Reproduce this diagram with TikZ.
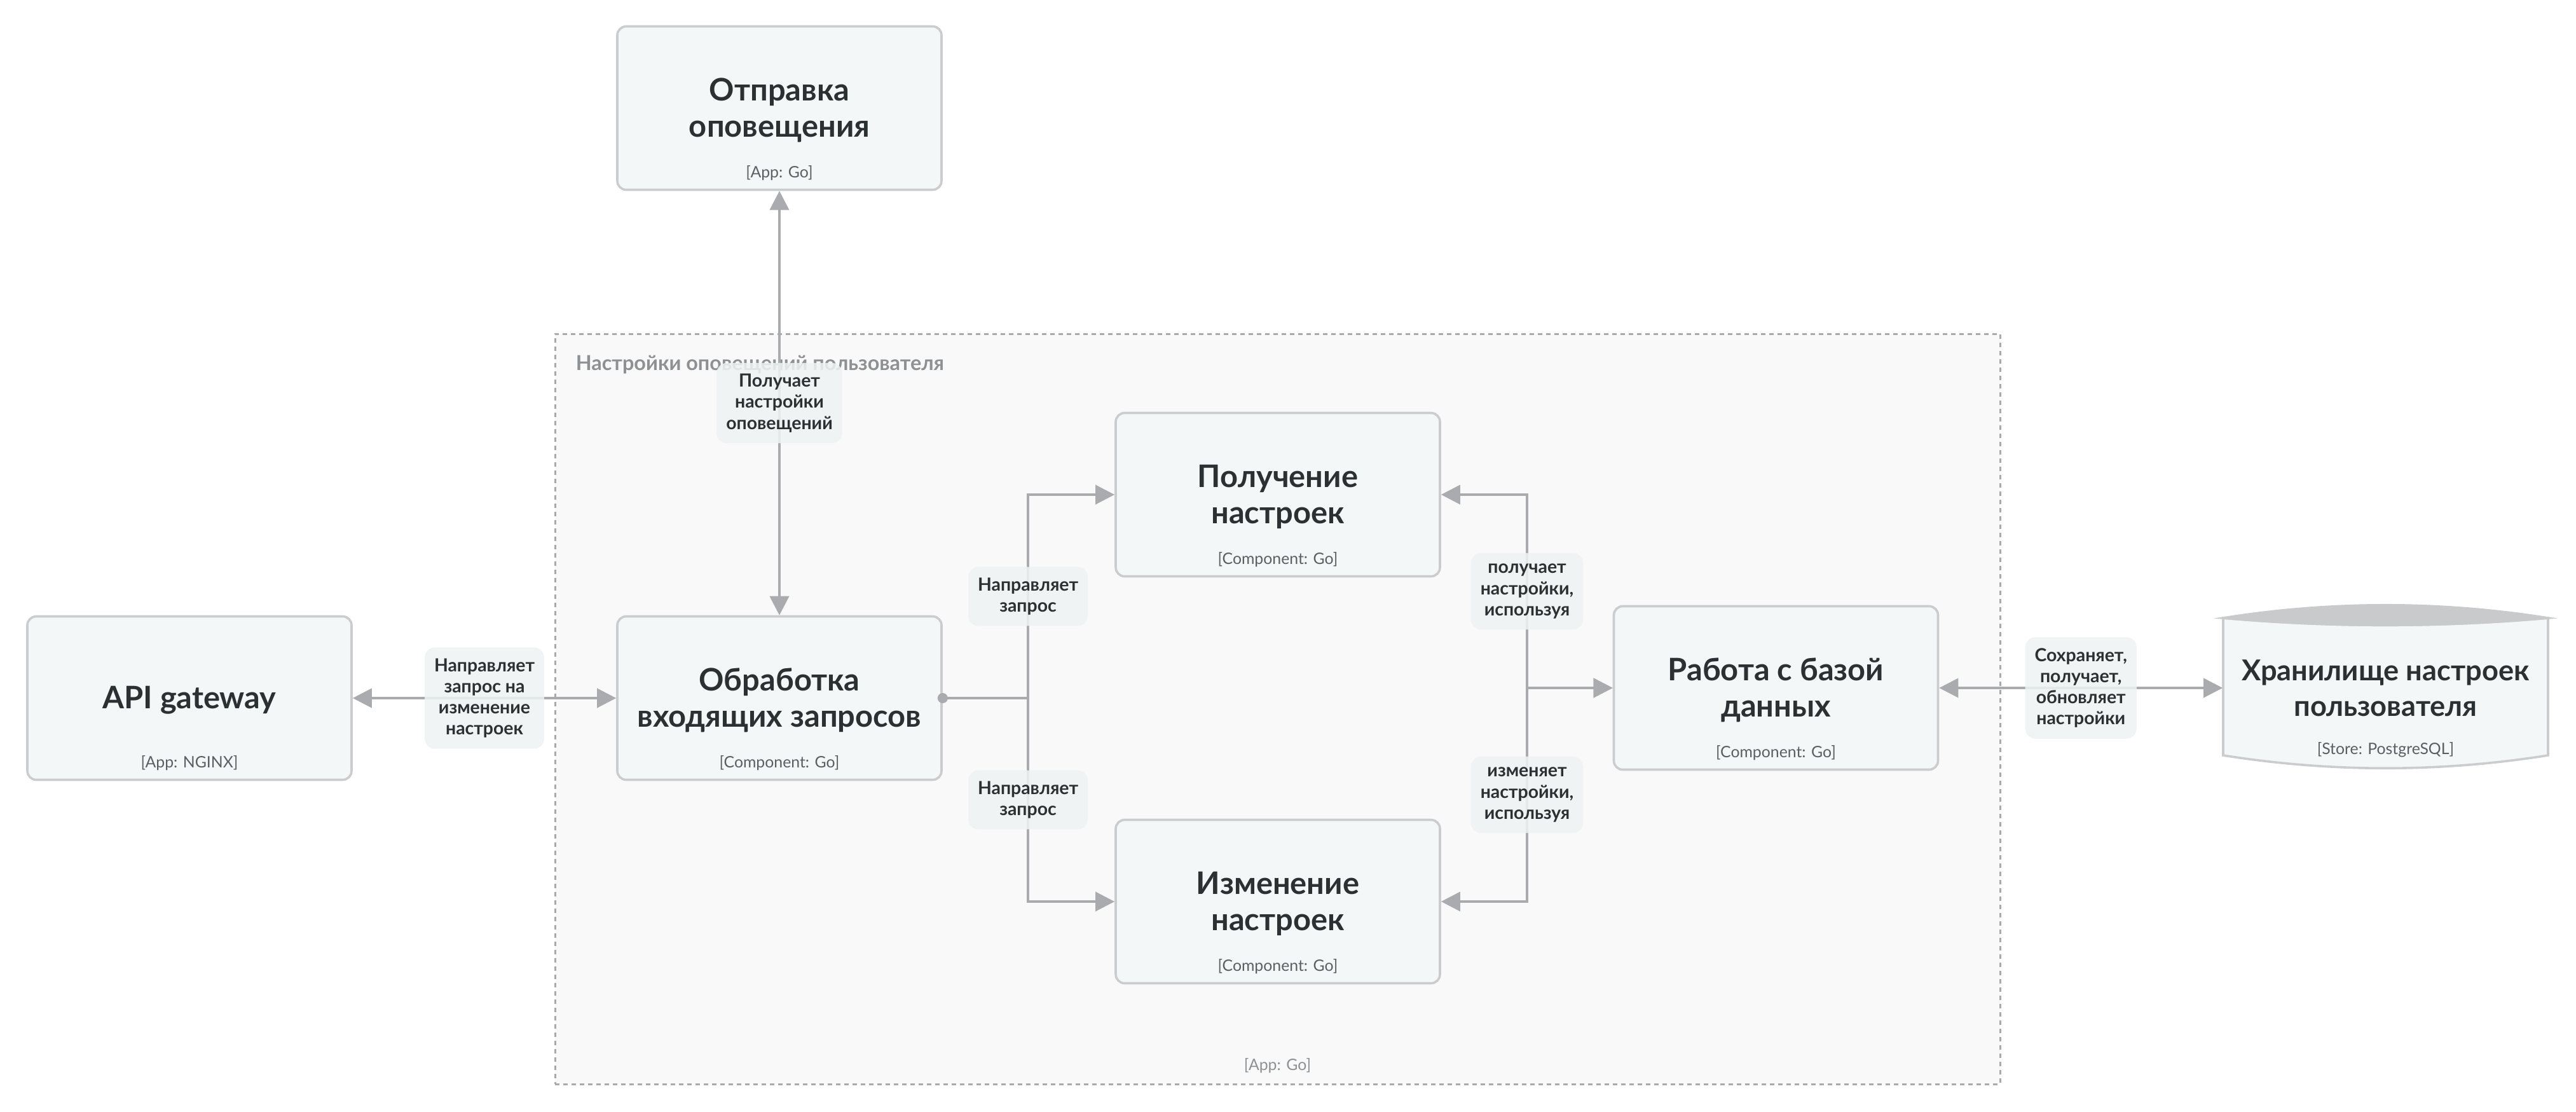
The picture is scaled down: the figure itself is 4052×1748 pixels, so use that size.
\documentclass[tikz,border=0pt]{standalone}
\usepackage{fontspec}
\setmainfont{Lato}
\usetikzlibrary{arrows.meta,calc}

\definecolor{bordercol}{HTML}{CBCCCE}
\definecolor{boxfill}{HTML}{F4F7F8}
\definecolor{grpfill}{HTML}{F9F9F9}
\definecolor{grpline}{HTML}{A8AAAD}
\definecolor{linecol}{HTML}{A9ABAE}
\definecolor{titlecol}{HTML}{2B3033}
\definecolor{subcol}{HTML}{5A5F63}
\definecolor{grptitlecol}{HTML}{8D9194}
\definecolor{lblfill}{HTML}{EEF3F4}
\definecolor{capfill}{HTML}{C9CACC}

\tikzset{
  box/.style={draw=bordercol, line width=0.9pt, fill=boxfill, rounded corners=3.5pt,
    minimum width=127.5pt, minimum height=64.25pt, inner sep=0pt},
  ttl/.style={anchor=base, text=titlecol, font=\fontsize{12.2}{14}\selectfont\bfseries, inner sep=0pt},
  subt/.style={anchor=base, text=subcol, font=\fontsize{6.2}{7}\selectfont, inner sep=0pt},
  conn/.style={draw=linecol, line width=1pt},
  lbl/.style={fill=lblfill, fill opacity=0.85, text opacity=1, rounded corners=4pt, align=center,
    text=titlecol, font=\fontsize{7.1}{8.3}\selectfont\bfseries, inner xsep=3.75pt, inner ysep=4.3pt},
  grpbox/.style={draw=grpline, line width=0.75pt, dash pattern=on 1.75pt off 1.5pt, fill=grpfill,
    minimum width=568.25pt, minimum height=295pt, inner sep=0pt},
}

\newcommand\mkboxtwo[6]{%
  \node[box] (#1) at (#2,#3) {};
  \node[ttl] (#1t1) at (#2,{#3-12}) {#4};
  \node[ttl] (#1t2) at (#2,{#3+45}) {#5};
  \node[subt] (#1s) at (#2,{#3+109}) {#6};
}
\newcommand\mkboxone[5]{%
  \node[box] (#1) at (#2,#3) {};
  \node[ttl] (#1t1) at (#2,{#3+16}) {#4};
  \node[subt] (#1s) at (#2,{#3+109}) {#5};
}

\begin{document}
\begin{tikzpicture}[x=0.25pt, y=-0.25pt, >={Triangle[length=7.5pt,width=7.5pt]}]
\useasboundingbox (0,0) rectangle (4052,1748);
\fill[white] (0,0) rectangle (4052,1748);

% group
\node[grpbox] (grp) at (2009.5,1115) {};
\node[anchor=base west, inner sep=0pt, text=grptitlecol, font=\fontsize{8.1}{9}\selectfont\bfseries]
  (grptitle) at (905,582) {Настройки оповещений пользователя};
\node[subt, text=grptitlecol] (grpsub) at (2009.5,1683) {[App: Go]};

% boxes
\mkboxtwo{send}{1226}{170}{Отправка}{оповещения}{[App: Go]}
\mkboxone{api}{298}{1098}{API gateway}{[App: NGINX]}
\mkboxtwo{proc}{1226}{1098}{Обработка}{входящих запросов}{[Component: Go]}
\mkboxtwo{get}{2010}{778}{Получение}{настроек}{[Component: Go]}
\mkboxtwo{chg}{2010}{1418}{Изменение}{настроек}{[Component: Go]}
\mkboxtwo{work}{2793.5}{1082}{Работа с базой}{данных}{[Component: Go]}

% database cylinder
\node[minimum width=127.75pt, minimum height=64pt, inner sep=0pt] (db) at (3752.5,1082) {};
\filldraw[fill=boxfill, draw=bordercol, line width=0.9pt]
  (3497,972) .. controls (3667,987) and (3838,987) .. (4008,972) -- (4008,1188)
  .. controls (3838,1215) and (3667,1215) .. (3497,1188) -- cycle;
\filldraw[fill=capfill, draw=capfill, line width=0.9pt]
  (3497,972) .. controls (3667,945) and (3838,945) .. (4008,972)
  .. controls (3838,987) and (3667,987) .. (3497,972) -- cycle;
\node[ttl, font=\fontsize{11.3}{13}\selectfont\bfseries] (dbt1) at (3752.5,1070) {Хранилище настроек};
\node[ttl, font=\fontsize{11.3}{13}\selectfont\bfseries] (dbt2) at (3752.5,1126) {пользователя};
\node[subt] (dbs) at (3752.5,1186) {[Store: PostgreSQL]};

% connectors
\coordinate (j1) at (1617,1098);
\coordinate (j2) at (2402,1082);

\draw[conn,<->] (api.east) -- (proc.west)
  node[lbl,midway] (l1) {Направляет\\запрос на\\изменение\\настроек};
\draw[conn,<->] (proc.north) -- (send.south)
  node[lbl,midway] (l2) {Получает\\настройки\\оповещений};
\draw[conn,->] (proc.east) -- (j1) -- (j1 |- get.west)
  node[lbl,midway] (l3) {Направляет\\запрос} -- (get.west);
\draw[conn,->] (j1) -- (j1 |- chg.west)
  node[lbl,midway] (l4) {Направляет\\запрос} -- (chg.west);
\draw[conn,<->] (work.west) -- (j2) -- (j2 |- get.east)
  node[lbl,midway] (l5) {получает\\настройки,\\используя} -- (get.east);
\draw[conn,<->] (work.west) -- (j2) -- (j2 |- chg.east)
  node[lbl,midway] (l6) {изменяет\\настройки,\\используя} -- (chg.east);
\draw[conn,<->] (work.east) -- (db.west)
  node[lbl,midway] (l7) {Сохраняет,\\получает,\\обновляет\\настройки};

\fill[linecol] (proc.east) circle[radius=2pt];
\end{tikzpicture}
\end{document}
